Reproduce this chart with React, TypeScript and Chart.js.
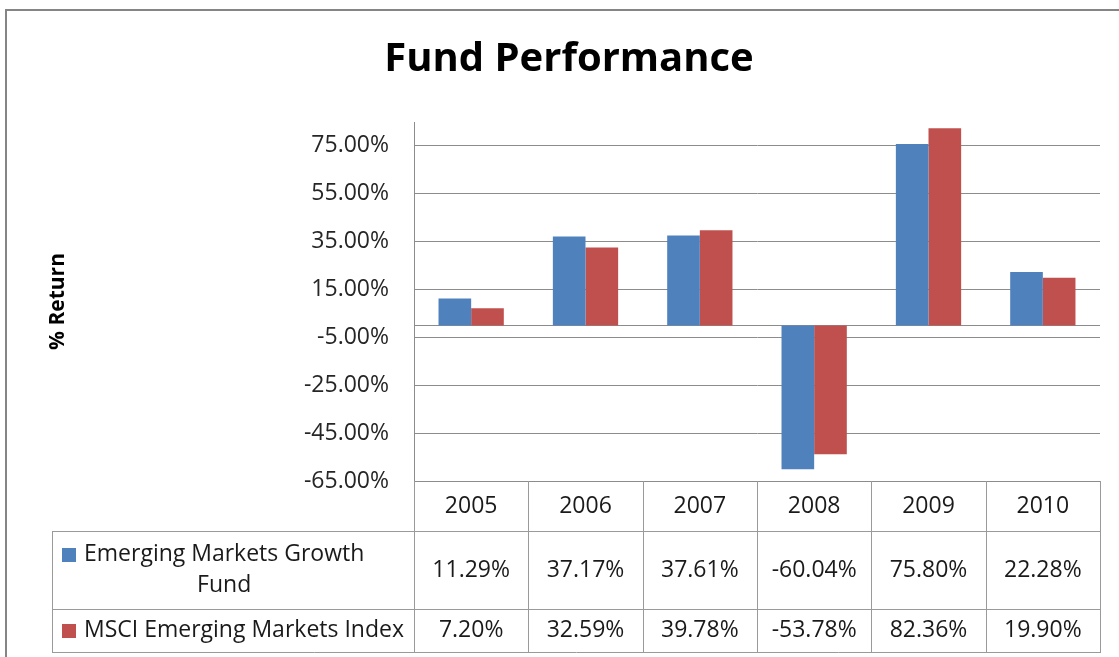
import React, { useEffect, useRef } from 'react';
import { Chart, registerables } from 'chart.js';

Chart.register(...registerables);

// ---- data ----
const categories = ['2005', '2006', '2007', '2008', '2009', '2010'];
const fundValues = [11.29, 37.17, 37.61, -60.04, 75.8, 22.28];
const indexValues = [7.2, 32.59, 39.78, -53.78, 82.36, 19.9];
const seriesNames = ['Emerging Markets Growth Fund', 'MSCI Emerging Markets Index'];
const seriesLabelLines = [['Emerging Markets Growth', 'Fund'], ['MSCI Emerging Markets Index']];
const seriesColors = ['#4F81BD', '#C0504D'];
const yTickValues = [-65, -45, -25, -5, 15, 35, 55, 75];
const yMin = -65;
const yMax = 85;

const FONT = '"Open Sans", "DejaVu Sans", sans-serif';
const GRID = '#8c8c8c';
const TABLE_LINE = '#9a9a9a';
const TEXT = '#1a1a1a';

const fmt = (v: number) => v.toFixed(2) + '%';

const framePlugin = {
  id: 'frame',
  beforeDraw(chart: any) {
    const { ctx, width, height } = chart;
    ctx.save();
    ctx.fillStyle = '#ffffff';
    ctx.fillRect(0, 0, width, height);
    ctx.strokeStyle = '#858585';
    ctx.lineWidth = 2;
    ctx.strokeRect(6, 10, width + 40, height + 40);
    ctx.restore();
  },
};

const zeroLinePlugin = {
  id: 'zeroLine',
  beforeDatasetsDraw(chart: any) {
    const { ctx, chartArea, scales } = chart;
    const y0 = Math.round(scales.y.getPixelForValue(0)) + 0.5;
    ctx.save();
    ctx.strokeStyle = GRID;
    ctx.lineWidth = 1;
    ctx.beginPath();
    ctx.moveTo(chartArea.left, y0);
    ctx.lineTo(chartArea.right, y0);
    ctx.stroke();
    ctx.restore();
  },
};

const dataTablePlugin = {
  id: 'dataTable',
  afterDraw(chart: any) {
    const { ctx, chartArea, scales } = chart;
    const xs = scales.x;
    const n = categories.length;
    const colW = (chartArea.right - chartArea.left) / n;
    const top = chartArea.bottom;
    const headerH = 50;
    const rowHs = [78, 43];
    const tableLeft = 52;
    const rowTops = [top + headerH, top + headerH + rowHs[0]];
    const bottom = rowTops[1] + rowHs[1];
    const px = (v: number) => Math.round(v) + 0.5;

    ctx.save();
    ctx.strokeStyle = TABLE_LINE;
    ctx.lineWidth = 1;
    const line = (x1: number, y1: number, x2: number, y2: number) => {
      ctx.beginPath();
      ctx.moveTo(x1, y1);
      ctx.lineTo(x2, y2);
      ctx.stroke();
    };
    // horizontal lines
    line(tableLeft, px(rowTops[0]), chartArea.right, px(rowTops[0]));
    line(tableLeft, px(rowTops[1]), chartArea.right, px(rowTops[1]));
    line(tableLeft, px(bottom), chartArea.right + 1, px(bottom));
    // vertical lines
    for (let i = 0; i <= n; i++) {
      const xi = px(chartArea.left + i * colW);
      line(xi, top, xi, bottom);
    }
    line(px(tableLeft), rowTops[0], px(tableLeft), bottom);

    // text
    ctx.fillStyle = TEXT;
    ctx.font = '23px ' + FONT;
    ctx.textBaseline = 'middle';
    ctx.textAlign = 'center';
    categories.forEach((c, i) => {
      ctx.fillText(c, xs.getPixelForValue(i), top + headerH / 2);
    });
    const series = [fundValues, indexValues];
    series.forEach((vals, r) => {
      const cy = rowTops[r] + rowHs[r] / 2;
      vals.forEach((v, i) => {
        ctx.fillText(fmt(v), xs.getPixelForValue(i), cy);
      });
    });

    // row labels with legend keys
    const keyX = 62;
    const keySize = 14;
    const textX = keyX + keySize + 8;
    const lineGap = 31;
    seriesLabelLines.forEach((lines, r) => {
      const cy = rowTops[r] + rowHs[r] / 2;
      const firstY = cy - ((lines.length - 1) * lineGap) / 2;
      ctx.fillStyle = seriesColors[r];
      ctx.fillRect(keyX, Math.round(firstY - keySize / 2), keySize, keySize);
      ctx.fillStyle = TEXT;
      ctx.textAlign = 'left';
      ctx.fillText(lines[0], textX, firstY);
      const w0 = ctx.measureText(lines[0]).width;
      ctx.textAlign = 'center';
      for (let k = 1; k < lines.length; k++) {
        ctx.fillText(lines[k], textX + w0 / 2, firstY + k * lineGap);
      }
    });
    ctx.restore();
  },
};

export default function App() {
  const ref = useRef<HTMLCanvasElement>(null);

  useEffect(() => {
    if (!ref.current) return;
    const chart = new Chart(ref.current, {
      type: 'bar',
      data: {
        labels: categories,
        datasets: [
          {
            label: seriesNames[0],
            data: fundValues,
            backgroundColor: seriesColors[0],
            borderWidth: 0,
            categoryPercentage: 0.571,
            barPercentage: 1,
          },
          {
            label: seriesNames[1],
            data: indexValues,
            backgroundColor: seriesColors[1],
            borderWidth: 0,
            categoryPercentage: 0.571,
            barPercentage: 1,
          },
        ],
      },
      options: {
        responsive: false,
        animation: false,
        devicePixelRatio: 1,
        layout: { padding: { top: 0, left: 38, right: 19, bottom: 176 } },
        plugins: {
          legend: { display: false },
          tooltip: { enabled: false },
          title: {
            display: true,
            text: 'Fund Performance',
            color: '#000',
            font: { family: FONT, size: 40, weight: 'bold', lineHeight: 1.2 },
            padding: { top: 36, bottom: 38 },
          },
        },
        scales: {
          x: {
            type: 'category',
            display: false,
            offset: true,
            grid: { display: false },
          },
          y: {
            min: yMin,
            max: yMax,
            afterBuildTicks: (scale: any) => {
              scale.ticks = yTickValues.map((v) => ({ value: v }));
            },
            afterFit: (scale: any) => {
              scale.width = 414 - 38;
            },
            ticks: {
              padding: 25,
              color: '#262626',
              font: { family: FONT, size: 23 },
              callback: (v: any) => fmt(Number(v)),
            },
            grid: { color: GRID, lineWidth: 1, drawTicks: false },
            border: { display: true, color: GRID, width: 1 },
            title: {
              display: true,
              text: '% Return',
              color: '#000',
              font: { family: FONT, size: 21, weight: 'bold', lineHeight: 1.2 },
              padding: { top: 7, bottom: 0 },
            },
          },
        },
      },
      plugins: [framePlugin, zeroLinePlugin, dataTablePlugin],
    } as any);
    return () => chart.destroy();
  }, []);

  return (
    <div style={{ position: 'fixed', left: 0, top: 0, width: 1119, height: 657, background: '#fff' }}>
      <canvas ref={ref} width={1119} height={657} style={{ display: 'block' }} />
    </div>
  );
}
